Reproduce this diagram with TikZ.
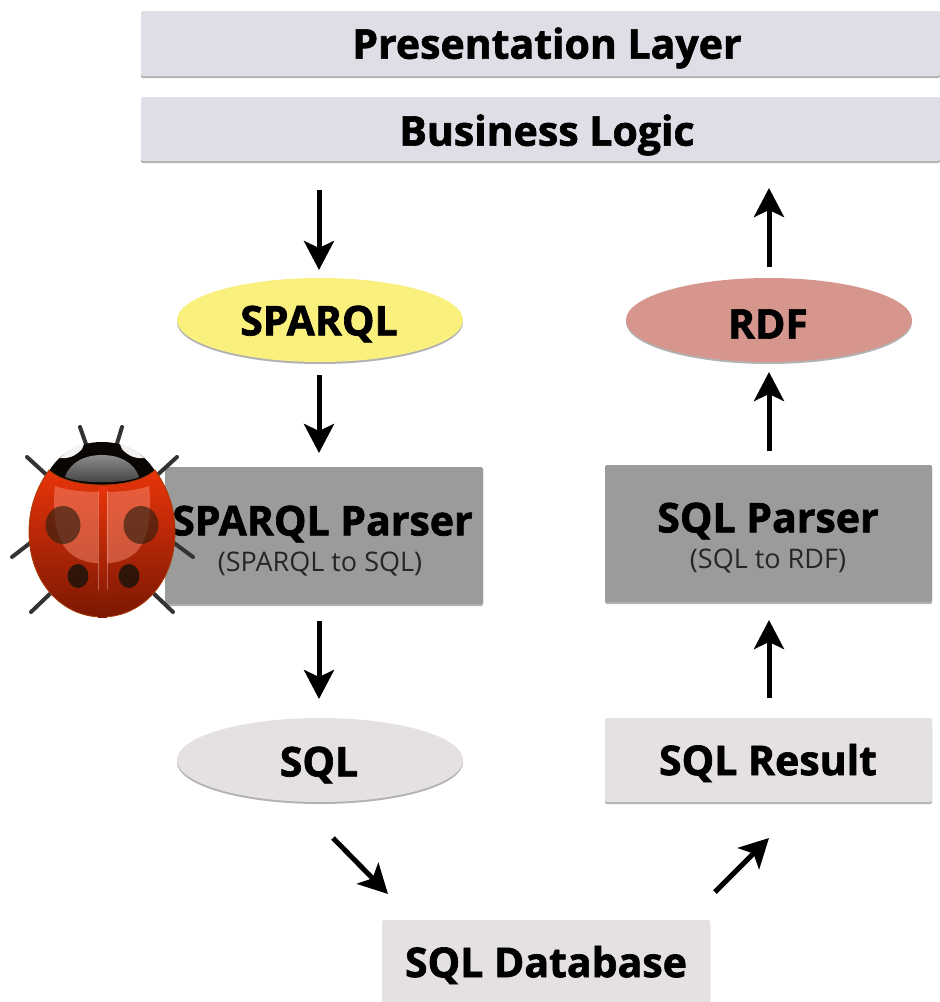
\documentclass[tikz,border=0pt]{standalone}
\usepackage{fontspec}
\setmainfont[BoldFeatures={FakeBold=1.6}]{Open Sans}
\usetikzlibrary{arrows.meta,shadows,shapes.geometric}
\definecolor{layerc}{HTML}{DFDDE6}
\definecolor{sparqlc}{HTML}{F9F07E}
\definecolor{rdfc}{HTML}{D6968E}
\definecolor{parserc}{HTML}{9B9B9B}
\definecolor{lightc}{HTML}{E4E1E0}
\definecolor{bugtop}{HTML}{E8340A}
\definecolor{bugmid}{HTML}{E02E02}
\definecolor{bugbot}{HTML}{7C1803}
\definecolor{bugedge}{HTML}{A83A06}
\definecolor{bughi}{HTML}{F58A70}
\tikzset{
  softshadow/.style={drop shadow={shadow xshift=0pt,shadow yshift=-2pt,opacity=.3,fill=black}},
  boxnode/.style={rectangle,inner sep=0pt,rounded corners=1.5pt,softshadow},
  ovalnode/.style={ellipse,inner sep=0pt,softshadow,minimum width=286pt,minimum height=84pt},
  headtext/.style={font=\fontsize{41}{45}\selectfont\bfseries,inner sep=0pt},
  flow/.style={line width=5pt,-{Stealth[length=29pt,width=30pt,inset=7pt]},black},
  leg/.style={line width=4pt,line cap=round,draw=black!80},
  subtext/.style={font=\fontsize{27}{30}\selectfont,text=black!85,inner sep=0pt}
}
\begin{document}
\begin{tikzpicture}[x=1pt,y=-1pt]
\useasboundingbox (0,0) rectangle (940,1002);
\fill[white] (0,0) rectangle (940,1002);
% layers
\node[boxnode,fill=layerc,minimum width=799pt,minimum height=65pt] (pres) at (540.5,43.5) {};
\node[headtext] (prest) at (547,48) {Presentation Layer};
\node[boxnode,fill=layerc,minimum width=799pt,minimum height=64pt] (biz) at (540.5,129) {};
\node[headtext] (bizt) at (547,135) {Business Logic};
% ovals
\node[ovalnode,fill=sparqlc] (sparql) at (320,320) {};
\node[headtext] (sparqlt) at (319,324) {SPARQL};
\node[ovalnode,fill=rdfc] (rdf) at (769,320) {};
\node[headtext] (rdft) at (768,324) {RDF};
\node[ovalnode,fill=lightc] (sql) at (320,760) {};
\node[headtext] (sqlt) at (319,765) {SQL};
% boxes
\node[boxnode,fill=parserc,minimum width=318pt,minimum height=137pt] (sp) at (324,535.5) {};
\node[headtext] (spt) at (322.5,524) {SPARQL Parser};
\node[subtext] (sps) at (320,564) {(SPARQL to SQL)};
\node[boxnode,fill=parserc,minimum width=327pt,minimum height=137pt] (qp) at (768.5,533.5) {};
\node[headtext] (qpt) at (768,521) {SQL Parser};
\node[subtext] (qps) at (768,561) {(SQL to RDF)};
\node[boxnode,fill=lightc,minimum width=327pt,minimum height=84pt] (res) at (768.5,760) {};
\node[headtext] (rest) at (768,763) {SQL Result};
\node[boxnode,fill=lightc,minimum width=328pt,minimum height=84pt] (db) at (546,962) {};
\node[headtext] (dbt) at (546,965) {SQL Database};
% connector ends
\coordinate (a1) at (319,190); \coordinate (a2) at (319,270);
\coordinate (b1) at (319,375); \coordinate (b2) at (319,453);
\coordinate (c1) at (319,621); \coordinate (c2) at (319,699);
\coordinate (d1) at (333,838); \coordinate (d2) at (388,894);
\coordinate (e1) at (715,892); \coordinate (e2) at (769,838);
\coordinate (f1) at (769,698); \coordinate (f2) at (769,620);
\coordinate (g1) at (769,451); \coordinate (g2) at (769,372);
\coordinate (h1) at (769,267); \coordinate (h2) at (769,188);
\foreach \p/\q in {a1/a2,b1/b2,c1/c2,d1/d2,e1/e2,f1/f2,g1/g2,h1/h2}
  \draw[flow] (\p) -- (\q);
% ladybug legs
\draw[leg] (80,427)--(87,447);
\draw[leg] (122,427)--(116,447);
\draw[leg] (27,457)--(50,478);
\draw[leg] (177,457)--(154,478);
\draw[leg] (12,557)--(34,540);
\draw[leg] (193,557)--(170,540);
\draw[leg] (31,612)--(54,590);
\draw[leg] (173,612)--(150,590);
% ladybug head
\fill[black!95!brown] (49,471) .. controls (62,450) and (82,442) .. (102,442)
  .. controls (122,442) and (142,450) .. (155,471) -- (155,475)
  .. controls (135,490) and (69,490) .. (49,475) -- cycle;
\fill[black!5] (60,458) .. controls (66,451) and (75,446) .. (84,444) -- (82,449) .. controls (76,456) and (68,459) .. (60,458) -- cycle;
\fill[black!5] (144,458) .. controls (138,451) and (129,446) .. (120,444) -- (122,449) .. controls (128,456) and (136,459) .. (144,458) -- cycle;
\shade[top color=black!45,bottom color=black!75] (65,477) .. controls (70,462) and (85,455) .. (102,455)
  .. controls (119,455) and (134,462) .. (139,477) .. controls (125,484) and (79,484) .. (65,477) -- cycle;
% ladybug body
\shade[top color=bugtop,middle color=bugmid,bottom color=bugbot,draw=bugedge,line width=.8pt]
  (49,470) .. controls (35,490) and (29,510) .. (29,532)
  .. controls (29,582) and (62,617) .. (102,617)
  .. controls (142,617) and (175,582) .. (175,532)
  .. controls (175,510) and (169,490) .. (155,470)
  .. controls (135,490) and (69,490) .. (49,470) -- cycle;
\fill[bughi,opacity=.5] (55,486) .. controls (75,494) and (129,494) .. (149,486)
  .. controls (152,510) and (150,540) .. (135,553)
  .. controls (120,567) and (85,567) .. (70,553)
  .. controls (55,540) and (52,510) .. (55,486) -- cycle;
\shade[top color=bugtop,bottom color=bugbot] (98,487) rectangle (107,617);
\draw[white,opacity=.3,line width=.8pt] (98,491) -- (98,590) (107,491) -- (107,590);
\fill[black!75!brown,opacity=.65] (63,525) ellipse [x radius=17.5pt,y radius=19pt];
\fill[black!75!brown,opacity=.65] (141,525) ellipse [x radius=17.5pt,y radius=19pt];
\fill[black!85!brown,opacity=.85] (78,576) ellipse [x radius=10.5pt,y radius=12pt];
\fill[black!85!brown,opacity=.85] (129,576) ellipse [x radius=10.5pt,y radius=12pt];
\end{tikzpicture}
\end{document}
